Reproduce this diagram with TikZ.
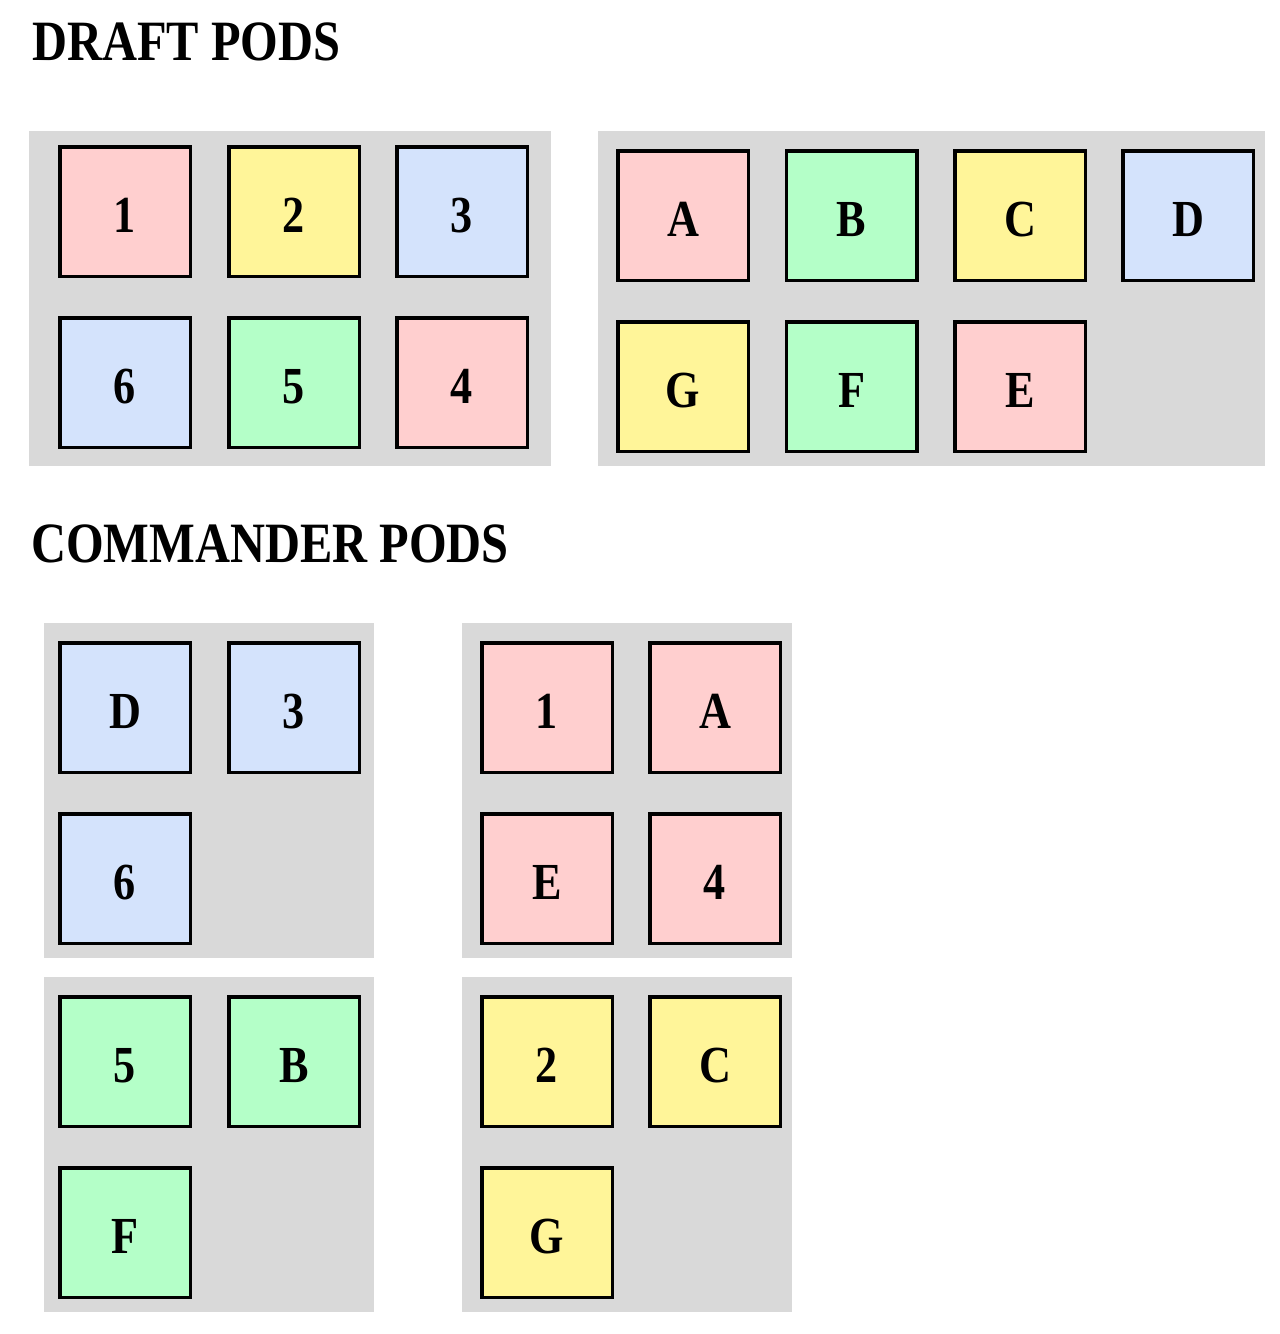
\documentclass[tikz,border=0pt]{standalone}
\usepackage{fontspec}
\setmainfont{Liberation Serif}[FakeStretch=0.85]
\definecolor{podgrey}{HTML}{D9D9D9}
\definecolor{cardred}{HTML}{FFCFCF}
\definecolor{cardyellow}{HTML}{FFF599}
\definecolor{cardblue}{HTML}{D4E3FC}
\definecolor{cardgreen}{HTML}{B4FFC8}
\tikzset{
  pod/.style={fill=podgrey},
  card/.style={draw=black,line width=3.5pt,minimum width=130.5pt,minimum height=129.5pt,
    inner sep=0pt,text height=41pt,text depth=0pt,font=\bfseries\fontsize{52}{52}\selectfont},
  red/.style={card,fill=cardred},
  yellow/.style={card,fill=cardyellow},
  blue/.style={card,fill=cardblue},
  green/.style={card,fill=cardgreen},
  heading/.style={anchor=base west,inner sep=0pt,font=\bfseries\fontsize{57}{57}\selectfont}
}
\begin{document}
\begin{tikzpicture}[x=1pt,y=-1pt]
        \useasboundingbox (0,0) rectangle (1280,1334);

        % headings
        \node[heading] (draft) at (32,60)  {DRAFT PODS};
        \node[heading] (cmdr)  at (31,562) {COMMANDER PODS};

        % grey pods
        \fill[pod] (29,131)  rectangle (551,466);
        \fill[pod] (598,131) rectangle (1265,466);
        \fill[pod] (44,623)  rectangle (374,958);
        \fill[pod] (462,623) rectangle (792,958);
        \fill[pod] (44,977)  rectangle (374,1312);
        \fill[pod] (462,977) rectangle (792,1312);

        % draft pods
        \begin{scope}
          \node[red]    (1) at (125,211.5) {1};
          \node[yellow] (2) at (294,211.5) {2};
          \node[blue]   (3) at (462,211.5) {3};
          \node[blue]   (6) at (125,382.5) {6};
          \node[green]  (5) at (294,382.5) {5};
          \node[red]    (4) at (462,382.5) {4};
        \end{scope}

        \begin{scope}
          \node[red]    (A) at (683,215.5)  {A};
          \node[green]  (B) at (851.5,215.5) {B};
          \node[yellow] (C) at (1020,215.5) {C};
          \node[blue]   (D) at (1188,215.5) {D};
          \node[yellow] (G) at (683,386.5)  {G};
          \node[green]  (F) at (851.5,386.5) {F};
          \node[red]    (E) at (1020,386.5) {E};
        \end{scope}

        % commander pods
        \begin{scope}
          \node[blue]   (cD) at (125,707.5) {D};
          \node[blue]   (c3) at (294,707.5) {3};
          \node[blue]   (c6) at (125,878.5) {6};

          \node[red]    (c1) at (547,707.5) {1};
          \node[red]    (cA) at (715,707.5) {A};
          \node[red]    (cE) at (547,878.5) {E};
          \node[red]    (c4) at (715,878.5) {4};

          \node[green]  (c5) at (125,1061.5) {5};
          \node[green]  (cB) at (294,1061.5) {B};
          \node[green]  (cF) at (125,1232.5) {F};

          \node[yellow] (c2) at (547,1061.5) {2};
          \node[yellow] (cC) at (715,1061.5) {C};
          \node[yellow] (cG) at (547,1232.5) {G};
        \end{scope}

      \end{tikzpicture}
\end{document}
